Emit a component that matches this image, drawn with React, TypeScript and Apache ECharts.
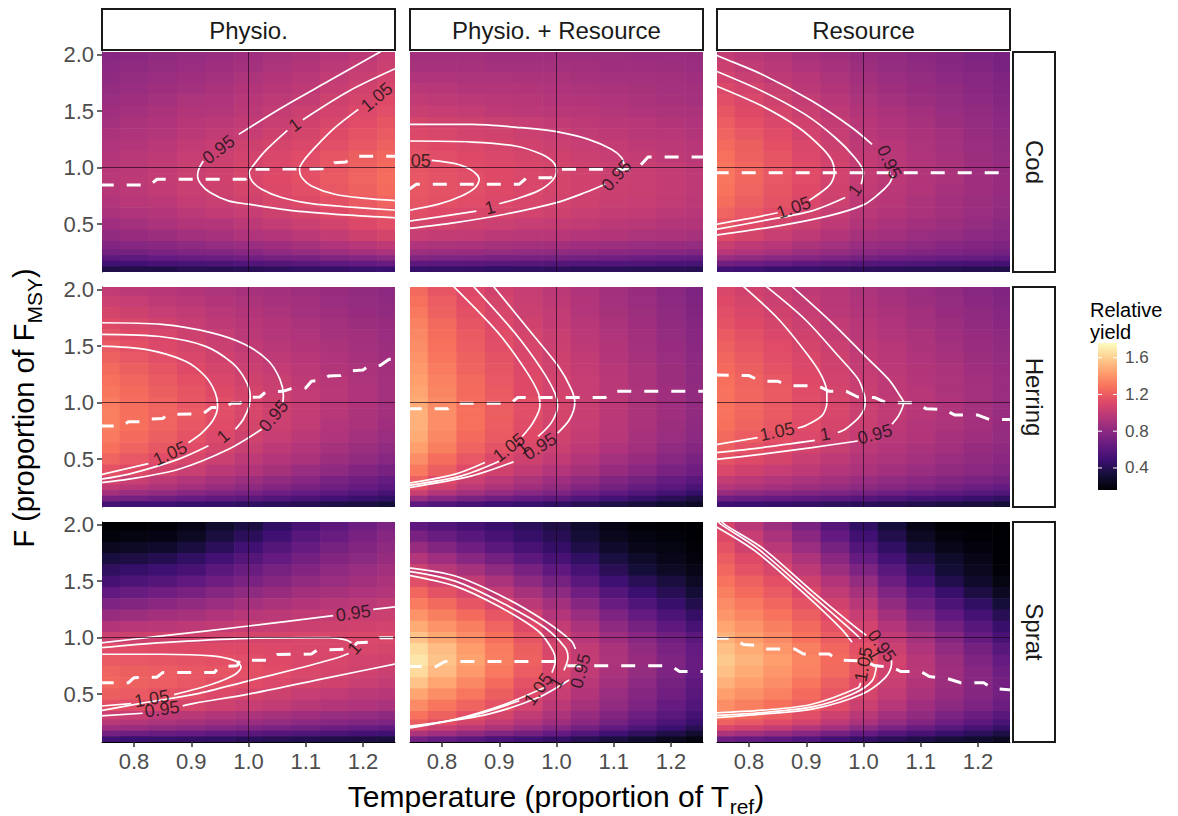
import React, { useEffect, useRef } from "react";
import * as echarts from "echarts";

const FONT = '"Liberation Sans", Arial, Helvetica, sans-serif';

// ---------- axes / categories ----------
const T_LEVELS = [0.75, 0.8, 0.85, 0.9, 0.95, 1.0, 1.05, 1.1, 1.15, 1.2, 1.25];
// rows listed from top (F = 2.0) to bottom (F = 0.1)
const F_LEVELS = [2.0, 1.9, 1.8, 1.7, 1.6, 1.5, 1.4, 1.3, 1.2, 1.1, 1.0, 0.9, 0.8, 0.7, 0.6, 0.5, 0.4, 0.3, 0.25, 0.2, 0.15, 0.1];
const X_TICKS = [0.8, 0.9, 1.0, 1.1, 1.2];
const Y_TICKS = [0.5, 1.0, 1.5, 2.0];
const LEGEND_TICKS = [0.4, 0.8, 1.2, 1.6];
const COL_LABELS = ["Physio.", "Physio. + Resource", "Resource"];
const ROW_LABELS = ["Cod", "Herring", "Sprat"];
const YIELD_MIN = 0.16;
const YIELD_MAX = 1.76;
const MAGMA = ["#000004", "#140e36", "#3b0f70", "#641a80", "#8c2981", "#b73779", "#de4968", "#f7705c", "#fe9f6d", "#fecf92", "#fcfdbf"];

// ---------- relative yield (x100), rows F 2.0 -> 0.1, cols T 0.75 -> 1.25 ----------
const COD_PHYSIO = [
  [78, 79, 81, 83, 85, 87, 90, 92, 95, 98, 102],
  [80, 81, 83, 85, 87, 89, 92, 94, 98, 101, 104],
  [81, 83, 85, 87, 89, 92, 94, 97, 100, 103, 107],
  [83, 85, 87, 89, 91, 94, 96, 99, 102, 106, 109],
  [85, 87, 89, 92, 93, 96, 99, 101, 105, 108, 112],
  [87, 89, 91, 94, 95, 98, 101, 104, 107, 111, 114],
  [89, 91, 93, 96, 98, 100, 103, 106, 109, 113, 117],
  [91, 93, 95, 98, 100, 102, 105, 108, 112, 116, 119],
  [93, 95, 97, 100, 102, 105, 108, 110, 114, 118, 122],
  [95, 97, 99, 102, 104, 107, 110, 113, 117, 121, 124],
  [96, 98, 100, 103, 105, 108, 111, 114, 118, 122, 126],
  [97, 99, 101, 104, 106, 109, 112, 115, 119, 123, 127],
  [96, 98, 100, 103, 105, 108, 111, 114, 118, 122, 126],
  [94, 96, 98, 101, 103, 106, 109, 112, 115, 119, 123],
  [91, 93, 95, 98, 100, 102, 105, 108, 112, 116, 119],
  [87, 89, 91, 94, 95, 98, 101, 104, 107, 111, 114],
  [82, 84, 86, 88, 90, 93, 95, 98, 101, 105, 108],
  [76, 77, 79, 81, 83, 85, 87, 90, 93, 96, 99],
  [70, 71, 73, 75, 76, 78, 81, 83, 86, 89, 91],
  [61, 62, 64, 66, 67, 69, 71, 72, 75, 77, 80],
  [50, 51, 53, 54, 55, 57, 58, 60, 62, 64, 66],
  [37, 38, 38, 40, 40, 41, 43, 44, 45, 47, 48],
];
const COD_PR = [
  [88, 88, 88, 87, 87, 87, 86, 86, 85, 85, 84],
  [90, 90, 90, 89, 89, 89, 88, 87, 87, 86, 85],
  [93, 93, 92, 92, 91, 91, 90, 89, 89, 88, 87],
  [97, 96, 95, 95, 94, 93, 92, 91, 90, 89, 88],
  [100, 99, 98, 97, 96, 95, 94, 93, 91, 90, 89],
  [103, 102, 101, 99, 98, 97, 96, 95, 93, 92, 91],
  [108, 106, 105, 103, 102, 100, 99, 97, 96, 94, 93],
  [111, 109, 107, 106, 104, 102, 100, 99, 97, 96, 94],
  [114, 112, 110, 108, 106, 104, 102, 101, 99, 98, 96],
  [116, 114, 112, 110, 108, 106, 104, 102, 101, 99, 97],
  [117, 115, 113, 112, 110, 108, 106, 104, 103, 101, 99],
  [118, 116, 114, 112, 110, 108, 106, 104, 103, 101, 99],
  [118, 116, 114, 112, 110, 108, 106, 104, 103, 101, 99],
  [117, 115, 113, 111, 109, 107, 105, 103, 102, 100, 98],
  [114, 112, 110, 109, 107, 105, 103, 101, 100, 98, 96],
  [108, 107, 105, 104, 102, 101, 100, 98, 97, 95, 94],
  [102, 101, 100, 98, 97, 96, 95, 94, 92, 91, 90],
  [93, 92, 91, 90, 89, 88, 87, 86, 85, 84, 83],
  [86, 85, 84, 83, 82, 81, 80, 79, 78, 77, 76],
  [76, 75, 74, 73, 72, 71, 70, 69, 67, 66, 65],
  [62, 61, 60, 60, 59, 58, 57, 56, 56, 55, 54],
  [46, 45, 45, 44, 44, 43, 42, 42, 41, 41, 40],
];
const COD_RES = [
  [100, 97, 94, 90, 87, 84, 82, 79, 77, 74, 72],
  [104, 100, 97, 93, 90, 86, 83, 81, 78, 76, 73],
  [107, 103, 99, 96, 92, 88, 85, 83, 80, 78, 75],
  [111, 107, 103, 98, 94, 90, 87, 84, 82, 79, 76],
  [114, 110, 105, 101, 96, 92, 89, 86, 83, 80, 77],
  [117, 112, 108, 103, 99, 94, 91, 88, 85, 82, 79],
  [120, 115, 110, 106, 101, 96, 93, 90, 86, 83, 80],
  [123, 118, 113, 107, 102, 97, 94, 91, 88, 84, 81],
  [126, 121, 115, 110, 104, 99, 96, 92, 89, 85, 82],
  [128, 122, 117, 111, 106, 100, 97, 93, 90, 86, 83],
  [130, 124, 118, 113, 107, 101, 98, 94, 91, 87, 84],
  [130, 124, 118, 113, 107, 101, 98, 94, 91, 87, 84],
  [129, 123, 117, 112, 106, 100, 97, 94, 90, 87, 84],
  [127, 121, 116, 110, 105, 99, 96, 92, 89, 86, 83],
  [123, 118, 113, 107, 102, 97, 94, 91, 88, 85, 82],
  [118, 113, 108, 104, 99, 94, 91, 88, 86, 83, 80],
  [112, 108, 103, 99, 94, 90, 88, 85, 83, 80, 78],
  [103, 99, 96, 92, 89, 85, 83, 81, 78, 76, 74],
  [96, 93, 90, 86, 83, 80, 78, 76, 74, 72, 70],
  [85, 82, 79, 77, 74, 71, 69, 68, 66, 65, 63],
  [69, 67, 65, 62, 60, 58, 57, 56, 54, 53, 52],
  [50, 49, 47, 46, 44, 43, 42, 41, 40, 39, 38],
];
const HER_PHYSIO = [
  [100, 98, 96, 94, 92, 90, 88, 86, 84, 82, 80],
  [104, 102, 99, 97, 94, 92, 90, 88, 85, 83, 81],
  [108, 105, 102, 100, 97, 94, 92, 89, 87, 84, 82],
  [112, 109, 106, 102, 99, 96, 94, 91, 89, 86, 84],
  [116, 112, 109, 105, 102, 98, 95, 93, 90, 88, 85],
  [119, 115, 111, 108, 104, 100, 97, 94, 92, 89, 86],
  [122, 118, 114, 110, 106, 102, 99, 96, 93, 90, 87],
  [125, 121, 117, 112, 108, 104, 101, 98, 94, 91, 88],
  [128, 124, 119, 115, 110, 106, 103, 99, 96, 92, 89],
  [130, 126, 121, 117, 112, 108, 104, 100, 97, 93, 89],
  [132, 127, 123, 118, 114, 109, 105, 101, 97, 93, 89],
  [133, 128, 123, 119, 114, 109, 105, 101, 96, 92, 88],
  [133, 128, 123, 118, 113, 108, 104, 100, 95, 91, 87],
  [131, 126, 121, 116, 111, 106, 102, 98, 93, 89, 85],
  [128, 123, 118, 113, 108, 103, 99, 95, 90, 86, 82],
  [123, 118, 113, 109, 104, 99, 95, 91, 86, 82, 78],
  [116, 112, 107, 103, 98, 94, 90, 85, 81, 76, 72],
  [107, 103, 99, 94, 90, 86, 82, 78, 73, 69, 65],
  [100, 96, 92, 88, 84, 80, 76, 72, 68, 64, 60],
  [88, 85, 82, 78, 75, 72, 68, 64, 61, 57, 53],
  [72, 70, 67, 65, 62, 60, 57, 54, 50, 47, 44],
  [52, 50, 49, 47, 46, 44, 42, 40, 37, 35, 33],
];
const HER_PR = [
  [125, 117, 111, 106, 102, 98, 93, 88, 84, 79, 74],
  [128, 120, 113, 108, 103, 99, 94, 89, 85, 80, 75],
  [131, 122, 115, 109, 104, 100, 95, 90, 86, 81, 76],
  [134, 125, 117, 111, 106, 101, 96, 91, 87, 82, 77],
  [136, 127, 119, 113, 108, 103, 98, 93, 88, 83, 78],
  [138, 128, 120, 114, 109, 104, 99, 94, 89, 84, 79],
  [140, 130, 122, 116, 110, 105, 100, 95, 90, 85, 80],
  [142, 132, 123, 117, 111, 106, 101, 96, 91, 86, 81],
  [144, 134, 125, 118, 112, 107, 102, 97, 91, 86, 81],
  [146, 135, 126, 119, 112, 107, 102, 97, 92, 87, 82],
  [148, 137, 127, 120, 114, 108, 103, 98, 92, 87, 82],
  [150, 138, 128, 121, 114, 108, 103, 98, 92, 87, 82],
  [150, 138, 128, 120, 113, 107, 102, 97, 91, 86, 81],
  [148, 136, 126, 119, 112, 106, 101, 96, 90, 85, 80],
  [144, 133, 123, 116, 110, 104, 99, 93, 88, 82, 77],
  [138, 127, 118, 111, 105, 100, 95, 89, 84, 78, 73],
  [131, 121, 112, 106, 100, 95, 90, 84, 79, 73, 68],
  [122, 112, 104, 98, 92, 87, 82, 76, 71, 65, 60],
  [115, 106, 98, 92, 87, 82, 76, 71, 65, 60, 54],
  [103, 95, 88, 83, 78, 74, 68, 63, 57, 52, 46],
  [85, 78, 73, 68, 64, 61, 56, 51, 46, 41, 36],
  [62, 57, 53, 49, 47, 44, 41, 37, 34, 30, 27],
];
const HER_RES = [
  [110, 106, 103, 99, 96, 92, 89, 85, 82, 78, 75],
  [112, 108, 104, 101, 97, 93, 90, 86, 83, 79, 76],
  [114, 110, 106, 102, 98, 94, 91, 88, 84, 81, 78],
  [116, 112, 108, 104, 100, 96, 93, 89, 86, 82, 79],
  [119, 115, 110, 106, 101, 97, 94, 91, 87, 84, 81],
  [122, 117, 113, 108, 104, 99, 96, 92, 89, 85, 82],
  [124, 119, 114, 110, 105, 100, 97, 93, 90, 86, 83],
  [126, 121, 116, 111, 106, 101, 98, 94, 91, 87, 84],
  [128, 123, 118, 112, 107, 102, 99, 95, 92, 88, 85],
  [129, 124, 119, 113, 108, 103, 99, 96, 92, 89, 85],
  [129, 124, 119, 114, 109, 104, 100, 96, 93, 89, 85],
  [129, 124, 119, 114, 109, 104, 100, 96, 93, 89, 85],
  [128, 123, 118, 113, 108, 103, 99, 95, 92, 88, 84],
  [125, 120, 115, 111, 106, 101, 97, 94, 90, 87, 83],
  [121, 116, 112, 107, 103, 98, 95, 91, 88, 84, 81],
  [116, 112, 108, 103, 99, 95, 92, 89, 85, 82, 79],
  [110, 106, 102, 99, 95, 91, 88, 85, 82, 79, 76],
  [101, 98, 95, 91, 88, 85, 82, 79, 76, 73, 70],
  [95, 92, 89, 86, 83, 80, 77, 74, 70, 67, 64],
  [84, 81, 79, 76, 74, 71, 68, 65, 62, 59, 56],
  [68, 66, 64, 62, 60, 58, 55, 52, 50, 47, 44],
  [49, 48, 46, 45, 43, 42, 40, 38, 36, 34, 32],
];
const SPR_PHYSIO = [
  [15, 16, 17, 21, 28, 35, 44, 53, 61, 68, 74],
  [18, 20, 21, 26, 34, 42, 50, 59, 66, 72, 78],
  [25, 27, 29, 34, 42, 50, 58, 65, 71, 76, 81],
  [34, 36, 39, 44, 51, 58, 64, 70, 76, 80, 84],
  [43, 46, 49, 53, 60, 66, 71, 76, 81, 85, 88],
  [52, 55, 58, 63, 68, 73, 77, 82, 85, 88, 91],
  [63, 66, 69, 72, 77, 81, 84, 88, 90, 93, 95],
  [74, 76, 79, 82, 85, 89, 91, 94, 96, 98, 100],
  [84, 86, 88, 90, 93, 96, 98, 100, 101, 103, 104],
  [94, 96, 97, 99, 100, 102, 103, 104, 105, 106, 107],
  [104, 105, 106, 106, 107, 108, 108, 109, 109, 110, 110],
  [113, 113, 112, 112, 112, 112, 111, 110, 110, 109, 108],
  [119, 118, 117, 116, 115, 114, 112, 110, 109, 107, 106],
  [123, 121, 120, 118, 117, 115, 113, 110, 108, 106, 104],
  [124, 122, 120, 118, 115, 113, 111, 108, 106, 103, 101],
  [121, 119, 116, 114, 111, 108, 105, 102, 100, 98, 96],
  [115, 113, 110, 108, 105, 102, 100, 97, 95, 93, 91],
  [104, 102, 99, 97, 94, 92, 90, 87, 85, 83, 81],
  [97, 95, 92, 90, 87, 85, 83, 80, 78, 76, 74],
  [87, 85, 82, 80, 77, 75, 73, 70, 67, 65, 63],
  [70, 68, 66, 64, 62, 60, 58, 56, 54, 52, 50],
  [50, 48, 47, 45, 44, 42, 40, 39, 37, 36, 34],
];
const SPR_PR = [
  [62, 57, 52, 47, 42, 36, 29, 21, 17, 16, 15],
  [72, 66, 59, 53, 46, 40, 32, 24, 20, 18, 16],
  [84, 76, 68, 60, 53, 45, 37, 29, 23, 20, 17],
  [95, 87, 78, 70, 61, 53, 44, 35, 28, 23, 19],
  [105, 97, 90, 81, 72, 62, 52, 41, 33, 27, 22],
  [114, 107, 100, 91, 81, 71, 60, 49, 41, 34, 27],
  [124, 116, 109, 100, 90, 80, 69, 58, 48, 40, 32],
  [132, 125, 117, 109, 98, 88, 77, 66, 56, 47, 38],
  [140, 133, 126, 117, 106, 95, 85, 74, 64, 55, 45],
  [148, 140, 133, 123, 112, 101, 91, 81, 71, 62, 53],
  [156, 147, 138, 128, 117, 106, 96, 87, 78, 69, 60],
  [164, 154, 143, 132, 121, 109, 100, 91, 82, 73, 64],
  [168, 156, 145, 133, 122, 110, 101, 92, 84, 75, 66],
  [164, 153, 142, 131, 120, 109, 100, 91, 83, 74, 65],
  [156, 146, 136, 126, 116, 106, 97, 88, 80, 71, 62],
  [146, 138, 130, 121, 112, 102, 94, 85, 77, 69, 60],
  [137, 130, 123, 116, 107, 98, 90, 82, 74, 65, 57],
  [129, 122, 115, 108, 100, 92, 84, 76, 68, 60, 52],
  [121, 115, 108, 101, 94, 87, 79, 71, 63, 55, 47],
  [109, 103, 98, 92, 85, 78, 70, 63, 55, 48, 40],
  [92, 87, 82, 76, 70, 64, 57, 50, 43, 37, 30],
  [70, 65, 60, 55, 50, 45, 40, 35, 30, 25, 20],
];
const SPR_RES = [
  [108, 97, 86, 73, 58, 44, 33, 21, 16, 16, 15],
  [112, 102, 91, 79, 64, 50, 38, 26, 19, 17, 15],
  [116, 106, 97, 85, 71, 57, 44, 31, 23, 19, 15],
  [120, 112, 103, 92, 79, 65, 51, 38, 28, 22, 16],
  [124, 116, 109, 99, 86, 74, 59, 44, 32, 25, 17],
  [129, 122, 115, 105, 94, 83, 67, 51, 38, 29, 20],
  [133, 126, 119, 111, 100, 90, 75, 60, 47, 36, 26],
  [137, 131, 124, 116, 106, 96, 82, 67, 55, 44, 33],
  [141, 135, 129, 121, 112, 102, 88, 75, 63, 52, 40],
  [146, 140, 133, 125, 116, 107, 95, 82, 70, 59, 47],
  [150, 144, 137, 129, 120, 111, 100, 89, 77, 65, 53],
  [155, 148, 141, 133, 124, 115, 104, 93, 82, 71, 59],
  [158, 151, 144, 135, 126, 117, 107, 96, 86, 75, 64],
  [155, 148, 141, 134, 125, 116, 106, 97, 87, 78, 68],
  [150, 144, 138, 130, 121, 112, 103, 94, 86, 78, 70],
  [144, 139, 134, 126, 117, 108, 100, 91, 84, 77, 70],
  [138, 133, 128, 122, 113, 104, 96, 87, 80, 74, 67],
  [130, 125, 120, 114, 105, 97, 89, 82, 74, 67, 60],
  [122, 118, 113, 107, 99, 91, 83, 76, 68, 61, 54],
  [110, 106, 101, 95, 88, 80, 73, 66, 59, 53, 46],
  [92, 88, 84, 78, 71, 64, 58, 53, 47, 42, 36],
  [68, 65, 62, 57, 51, 45, 41, 37, 33, 30, 26],
];

// ---------- contour lines (segments of [T, F]) ----------
const COD_PHYSIO_CONTOURS = [
  [[1.235, 2.04], [1.14, 1.767], [1.058, 1.531], [0.983, 1.295]],
  [[0.921, 1.059], [0.913, 0.985], [0.911, 0.926], [0.917, 0.853], [0.933, 0.779], [0.965, 0.705], [1.0, 0.676], [1.081, 0.617], [1.169, 0.581], [1.26, 0.555]],
  [[1.26, 1.885], [1.175, 1.678], [1.095, 1.425]],
  [[1.068, 1.33], [1.029, 1.147], [1.01, 1.03], [1.001, 0.956], [1.006, 0.882], [1.023, 0.808], [1.058, 0.735], [1.11, 0.681], [1.18, 0.65], [1.26, 0.622]],
  [[1.192, 1.516], [1.151, 1.354], [1.116, 1.177], [1.096, 1.059], [1.089, 0.985], [1.093, 0.912], [1.11, 0.838], [1.151, 0.764], [1.2, 0.73], [1.26, 0.708]],
];
const COD_PR_CONTOURS = [
  [[0.74, 1.383], [0.852, 1.383], [0.939, 1.354], [1.0, 1.319], [1.056, 1.251], [1.096, 1.162], [1.114, 1.088], [1.118, 1.03]],
  [[1.085, 0.853], [1.05, 0.779], [1.0, 0.69], [0.91, 0.587], [0.823, 0.513], [0.74, 0.46]],
  [[0.74, 1.236], [0.852, 1.227], [0.928, 1.192], [0.974, 1.118], [0.995, 1.044], [1.0, 0.97], [0.992, 0.882], [0.968, 0.794], [0.928, 0.72], [0.9, 0.68]],
  [[0.86, 0.615], [0.794, 0.563], [0.74, 0.525]],
  [[0.782, 1.065], [0.823, 1.035], [0.852, 0.976], [0.865, 0.897], [0.858, 0.823], [0.834, 0.749], [0.794, 0.676], [0.74, 0.62]],
];
const COD_RES_CONTOURS = [
  [[0.735, 2.02], [0.747, 1.988], [0.823, 1.826], [0.91, 1.59], [0.98, 1.354], [1.015, 1.206]],
  [[1.052, 0.93], [1.044, 0.853], [1.026, 0.764], [1.0, 0.67], [0.939, 0.572], [0.852, 0.484], [0.74, 0.4]],
  [[0.74, 1.86], [0.823, 1.678], [0.898, 1.472], [0.951, 1.265], [0.985, 1.088], [1.0, 0.956], [0.996, 0.853]],
  [[0.968, 0.735], [0.91, 0.617], [0.823, 0.528], [0.74, 0.45]],
  [[0.74, 1.73], [0.823, 1.546], [0.887, 1.354], [0.927, 1.177], [0.945, 1.059], [0.949, 0.956], [0.942, 0.853], [0.921, 0.764], [0.905, 0.71]],
  [[0.85, 0.6], [0.793, 0.543], [0.74, 0.496]],
];
const HER_PHYSIO_CONTOURS = [
  [[0.74, 1.708], [0.849, 1.693], [0.936, 1.619], [0.994, 1.516], [1.035, 1.369], [1.055, 1.206], [1.061, 1.059], [1.06, 1.0]],
  [[1.023, 0.764], [0.965, 0.587], [0.878, 0.41], [0.791, 0.322], [0.74, 0.29]],
  [[0.74, 1.605], [0.849, 1.584], [0.924, 1.501], [0.971, 1.354], [0.994, 1.206], [1.003, 1.059], [1.001, 0.97], [0.991, 0.853], [0.977, 0.764]],
  [[0.93, 0.617], [0.878, 0.499], [0.791, 0.366], [0.74, 0.32]],
  [[0.74, 1.501], [0.82, 1.472], [0.889, 1.369], [0.924, 1.236], [0.942, 1.088], [0.946, 0.97], [0.939, 0.853], [0.919, 0.735], [0.895, 0.645]],
  [[0.825, 0.46], [0.74, 0.36]],
];
const HER_PR_CONTOURS = [
  [[0.89, 2.03], [0.956, 1.619], [1.003, 1.324], [1.026, 1.118], [1.032, 1.0], [1.023, 0.853], [1.002, 0.73]],
  [[0.925, 0.475], [0.852, 0.351], [0.74, 0.245]],
  [[0.855, 2.03], [0.927, 1.619], [0.974, 1.295], [0.997, 1.088], [1.002, 0.97], [0.991, 0.823], [0.968, 0.7]],
  [[0.9, 0.48], [0.834, 0.351], [0.74, 0.265]],
  [[0.82, 2.03], [0.898, 1.619], [0.945, 1.295], [0.968, 1.088], [0.971, 0.97], [0.959, 0.823], [0.94, 0.7]],
  [[0.875, 0.469], [0.823, 0.366], [0.74, 0.284]],
];
const HER_RES_CONTOURS = [
  [[0.875, 2.03], [0.945, 1.708], [1.003, 1.413], [1.044, 1.206], [1.064, 1.059], [1.07, 1.0], [1.061, 0.882], [1.05, 0.81]],
  [[0.99, 0.66], [0.91, 0.602], [0.823, 0.543], [0.74, 0.495]],
  [[0.83, 2.03], [0.898, 1.737], [0.956, 1.413], [0.991, 1.206], [1.002, 1.059], [1.003, 1.0], [0.994, 0.882], [0.968, 0.764], [0.955, 0.735]],
  [[0.915, 0.665], [0.823, 0.602], [0.74, 0.555]],
  [[0.79, 2.03], [0.852, 1.737], [0.904, 1.413], [0.927, 1.236], [0.936, 1.088], [0.936, 1.0], [0.927, 0.882], [0.898, 0.794], [0.885, 0.775]],
  [[0.815, 0.69], [0.74, 0.625]],
];
const SPR_PHYSIO_CONTOURS = [
  [[0.74, 0.953], [0.849, 1.015], [1.0, 1.103], [1.148, 1.195]],
  [[1.218, 1.25], [1.26, 1.275]],
  [[0.74, 0.305], [0.815, 0.33]],
  [[0.885, 0.395], [0.907, 0.42], [1.0, 0.499], [1.14, 0.646], [1.26, 0.77]],
  [[0.74, 0.91], [0.849, 0.956], [1.0, 0.994], [1.14, 1.0], [1.17, 0.98], [1.18, 0.955]],
  [[1.175, 0.86], [1.151, 0.815], [1.081, 0.72], [1.0, 0.617], [0.907, 0.499], [0.82, 0.425], [0.74, 0.35]],
  [[0.74, 0.853], [0.849, 0.853], [0.936, 0.838], [0.977, 0.794], [0.987, 0.74], [0.977, 0.676], [0.936, 0.587], [0.87, 0.495]],
  [[0.795, 0.415], [0.74, 0.393]],
];
const SPR_PR_CONTOURS = [
  [[0.74, 1.62], [0.823, 1.546], [0.91, 1.354], [0.98, 1.147], [1.026, 0.97], [1.033, 0.9]],
  [[1.022, 0.625], [0.968, 0.469], [0.881, 0.322], [0.793, 0.248], [0.74, 0.215]],
  [[0.74, 1.59], [0.823, 1.501], [0.91, 1.295], [0.98, 1.088], [1.015, 0.912], [1.02, 0.823], [1.013, 0.71]],
  [[0.98, 0.56], [0.91, 0.41], [0.823, 0.277], [0.74, 0.205]],
  [[0.74, 1.555], [0.823, 1.457], [0.898, 1.28], [0.968, 1.059], [0.994, 0.882], [0.998, 0.794], [0.992, 0.69]],
  [[0.935, 0.44], [0.852, 0.307], [0.74, 0.195]],
];
const SPR_RES_CONTOURS = [
  [[0.752, 2.03], [0.759, 1.997], [0.823, 1.796], [0.91, 1.413], [0.98, 1.118], [1.005, 1.02]],
  [[1.049, 0.8], [1.049, 0.764], [1.038, 0.646], [0.997, 0.499], [0.91, 0.366], [0.823, 0.322], [0.74, 0.29]],
  [[0.745, 2.03], [0.753, 1.997], [0.817, 1.782], [0.904, 1.398], [0.974, 1.088], [0.995, 0.99]],
  [[1.023, 0.764], [1.015, 0.617], [0.98, 0.499], [0.91, 0.386], [0.823, 0.336], [0.74, 0.31]],
  [[0.74, 1.99], [0.811, 1.767], [0.898, 1.383], [0.962, 1.074], [0.98, 0.96]],
  [[0.995, 0.6], [0.991, 0.558], [0.91, 0.41], [0.823, 0.357], [0.74, 0.333]],
];

// ---------- contour labels [T, F, text, rotation deg] ----------
const COD_PHYSIO_LABELS = [[0.948, 1.16, "0.95", 37], [1.081, 1.378, "1", 36], [1.224, 1.625, "1.05", 40]];
const COD_PR_LABELS = [[0.763, 1.06, "05", 0], [0.884, 0.646, "1", 15], [1.105, 0.93, "0.95", 48]];
const COD_RES_LABELS = [[1.045, 1.05, "0.95", -65], [0.985, 0.8, "1", 55], [0.878, 0.646, "1.05", 20]];
const HER_PHYSIO_LABELS = [[1.044, 0.882, "0.95", 50], [0.956, 0.7, "1", 40], [0.863, 0.55, "1.05", 25]];
const HER_PR_LABELS = [[0.917, 0.602, "1.05", 38], [0.94, 0.6, "1", 40], [0.971, 0.612, "0.95", 32]];
const HER_RES_LABELS = [[1.02, 0.72, "0.95", 15], [0.933, 0.72, "1", 10], [0.849, 0.743, "1.05", 12]];
const SPR_PHYSIO_LABELS = [[1.183, 1.218, "0.95", 8], [0.849, 0.366, "0.95", 8], [0.831, 0.46, "1.05", 10], [1.185, 0.905, "1", 50]];
const SPR_PR_LABELS = [[0.968, 0.543, "1.05", 55], [1.0, 0.6, "1", 60], [1.042, 0.705, "0.95", 75]];
const SPR_RES_LABELS = [[1.0, 0.764, "1.05", 80], [1.02, 0.85, "1", -60], [1.032, 0.926, "0.95", -55]];

// ---------- F giving maximum yield at each temperature (dashed) ----------
const COD_PHYSIO_FOPT = [[0.74, 0.847], [0.828, 0.847], [0.84, 0.897], [0.995, 0.897], [1.012, 0.985], [1.14, 0.99], [1.15, 1.044], [1.17, 1.05], [1.185, 1.1], [1.26, 1.1]];
const COD_PR_FOPT = [[0.74, 0.8], [0.755, 0.853], [0.935, 0.853], [0.948, 0.91], [0.99, 0.91], [1.005, 0.985], [1.14, 0.985], [1.16, 1.094], [1.26, 1.094]];
const COD_RES_FOPT = [[0.74, 0.955], [1.26, 0.955]];
const HER_PHYSIO_FOPT = [[0.74, 0.794], [0.78, 0.794], [0.79, 0.83], [0.82, 0.83], [0.83, 0.855], [0.85, 0.86], [0.86, 0.897], [0.92, 0.9], [0.935, 0.956], [0.96, 0.96], [0.97, 0.994], [0.985, 0.994], [0.995, 1.044], [1.02, 1.05], [1.03, 1.094], [1.06, 1.1], [1.075, 1.124], [1.1, 1.13], [1.11, 1.19], [1.13, 1.2], [1.14, 1.236], [1.16, 1.24], [1.175, 1.28], [1.2, 1.29], [1.21, 1.324], [1.23, 1.33], [1.245, 1.383], [1.26, 1.4]];
const HER_PR_FOPT = [[0.74, 0.945], [0.81, 0.945], [0.822, 0.995], [0.92, 0.995], [0.932, 1.045], [1.085, 1.045], [1.097, 1.1], [1.26, 1.1]];
const HER_RES_FOPT = [[0.74, 1.245], [0.8, 1.24], [0.82, 1.19], [0.85, 1.19], [0.87, 1.15], [0.92, 1.15], [0.94, 1.1], [0.97, 1.1], [0.99, 1.05], [1.02, 1.045], [1.04, 1.0], [1.09, 1.0], [1.11, 0.945], [1.14, 0.94], [1.16, 0.89], [1.2, 0.89], [1.22, 0.85], [1.26, 0.85]];
const SPR_PHYSIO_FOPT = [[0.74, 0.6], [0.79, 0.6], [0.8, 0.645], [0.84, 0.65], [0.85, 0.69], [0.94, 0.69], [0.95, 0.745], [0.98, 0.75], [0.985, 0.8], [1.04, 0.8], [1.05, 0.85], [1.11, 0.855], [1.12, 0.89], [1.18, 0.9], [1.19, 0.955], [1.22, 0.96], [1.23, 1.0], [1.26, 1.0]];
const SPR_PR_FOPT = [[0.74, 0.745], [0.79, 0.745], [0.805, 0.788], [1.0, 0.788], [1.012, 0.75], [1.2, 0.75], [1.215, 0.7], [1.26, 0.7]];
const SPR_RES_FOPT = [[0.74, 0.995], [0.77, 0.995], [0.79, 0.94], [0.815, 0.93], [0.825, 0.9], [0.88, 0.9], [0.895, 0.855], [0.94, 0.855], [0.955, 0.8], [1.0, 0.795], [1.02, 0.75], [1.05, 0.74], [1.065, 0.7], [1.1, 0.7], [1.115, 0.655], [1.145, 0.64], [1.17, 0.6], [1.21, 0.6], [1.225, 0.55], [1.26, 0.535]];

const PANELS = [
  { grid: COD_PHYSIO, contours: COD_PHYSIO_CONTOURS, labels: COD_PHYSIO_LABELS, fopt: COD_PHYSIO_FOPT },
  { grid: COD_PR, contours: COD_PR_CONTOURS, labels: COD_PR_LABELS, fopt: COD_PR_FOPT },
  { grid: COD_RES, contours: COD_RES_CONTOURS, labels: COD_RES_LABELS, fopt: COD_RES_FOPT },
  { grid: HER_PHYSIO, contours: HER_PHYSIO_CONTOURS, labels: HER_PHYSIO_LABELS, fopt: HER_PHYSIO_FOPT },
  { grid: HER_PR, contours: HER_PR_CONTOURS, labels: HER_PR_LABELS, fopt: HER_PR_FOPT },
  { grid: HER_RES, contours: HER_RES_CONTOURS, labels: HER_RES_LABELS, fopt: HER_RES_FOPT },
  { grid: SPR_PHYSIO, contours: SPR_PHYSIO_CONTOURS, labels: SPR_PHYSIO_LABELS, fopt: SPR_PHYSIO_FOPT },
  { grid: SPR_PR, contours: SPR_PR_CONTOURS, labels: SPR_PR_LABELS, fopt: SPR_PR_FOPT },
  { grid: SPR_RES, contours: SPR_RES_CONTOURS, labels: SPR_RES_LABELS, fopt: SPR_RES_FOPT },
];

// ---------- layout ----------
const PANEL_LEFT = [102, 410, 717];
const PANEL_TOP = [52, 287, 522];
const PANEL_W = 293;
const PANEL_H = 220;
const X_MIN = 0.744, X_MAX = 1.256;
const Y_MIN = 0.075, Y_MAX = 2.025;
const T_HALF = 0.025;

function measure(text: string, size: number) {
  const ctx = document.createElement("canvas").getContext("2d")!;
  ctx.font = `${size}px "Liberation Sans", Arial, sans-serif`;
  return ctx.measureText(text).width;
}

function renderCell(params: any, api: any) {
  const t = api.value(0);
  const f = api.value(1);
  const r = api.value(3);
  const n = F_LEVELS.length;
  const fHi = r === 0 ? f + (F_LEVELS[0] - F_LEVELS[1]) / 2 : (f + F_LEVELS[r - 1]) / 2;
  const fLo = r === n - 1 ? f - (F_LEVELS[n - 2] - F_LEVELS[n - 1]) / 2 : (f + F_LEVELS[r + 1]) / 2;
  const p1 = api.coord([t - T_HALF, fHi]);
  const p2 = api.coord([t + T_HALF, fLo]);
  const cs = params.coordSys;
  const rect = echarts.graphic.clipRectByRect(
    { x: p1[0], y: p1[1], width: p2[0] - p1[0] + 0.6, height: p2[1] - p1[1] + 0.6 },
    { x: cs.x, y: cs.y, width: cs.width, height: cs.height }
  );
  if (!rect) return null;
  return { type: "rect", shape: rect, style: { fill: api.visual("color") } };
}

function buildOption() {
  const grid: any[] = [];
  const xAxis: any[] = [];
  const yAxis: any[] = [];
  const series: any[] = [];
  const heatIdx: number[] = [];
  const graphic: any[] = [];

  PANELS.forEach((p, i) => {
    const r = Math.floor(i / 3);
    const c = i % 3;
    grid.push({ left: PANEL_LEFT[c], top: PANEL_TOP[r], width: PANEL_W, height: PANEL_H });
    xAxis.push({
      gridIndex: i, type: "value", min: X_MIN, max: X_MAX,
      axisLine: { show: r === 2, lineStyle: { color: "#000", width: 1 } },
      axisTick: { show: r === 2, customValues: X_TICKS, length: 5, lineStyle: { color: "#333", width: 1.5 } },
      axisLabel: { show: r === 2, customValues: X_TICKS, formatter: (v: number) => v.toFixed(1), color: "#4d4d4d", fontSize: 22, fontFamily: FONT, margin: 8 },
      splitLine: { show: false },
    });
    yAxis.push({
      gridIndex: i, type: "value", min: Y_MIN, max: Y_MAX,
      axisLine: { show: c === 0, lineStyle: { color: "#000", width: 1 } },
      axisTick: { show: c === 0, customValues: Y_TICKS, length: 5, lineStyle: { color: "#333", width: 1.5 } },
      axisLabel: { show: c === 0, customValues: Y_TICKS, formatter: (v: number) => v.toFixed(1), color: "#4d4d4d", fontSize: 22, fontFamily: FONT, margin: 8 },
      splitLine: { show: false },
    });

    const data: number[][] = [];
    p.grid.forEach((row, ri) => row.forEach((v, ci) => data.push([T_LEVELS[ci], F_LEVELS[ri], v / 100, ri])));
    heatIdx.push(series.length);
    series.push({
      type: "custom", xAxisIndex: i, yAxisIndex: i, data, renderItem: renderCell,
      encode: { x: 0, y: 1 }, silent: true, z: 1,
      markLine: {
        silent: true, symbol: ["none", "none"], label: { show: false },
        lineStyle: { color: "rgba(25,5,25,0.75)", width: 0.9, type: "solid" },
        data: [{ xAxis: 1 }, { yAxis: 1 }],
      },
    });
    p.contours.forEach((seg) => {
      series.push({
        type: "line", xAxisIndex: i, yAxisIndex: i, data: seg, showSymbol: false, symbol: "none",
        smooth: 0.3, silent: true, z: 3, lineStyle: { color: "#ffffff", width: 1.7 },
      });
    });
    series.push({
      type: "line", xAxisIndex: i, yAxisIndex: i, data: p.fopt, showSymbol: false, symbol: "none",
      silent: true, z: 4, lineStyle: { color: "#ffffff", width: 3, type: [14, 13] },
    });
    series.push({
      type: "scatter", xAxisIndex: i, yAxisIndex: i, silent: true, z: 5, symbolSize: 1,
      itemStyle: { color: "rgba(0,0,0,0)" },
      data: p.labels.map((l: any) => ({ value: [l[0], l[1]], name: l[2], label: { rotate: l[3] } })),
      label: { show: true, position: "inside", formatter: "{b}", color: "#111", fontSize: 18, fontFamily: FONT },
    });
  });

  // strips
  COL_LABELS.forEach((lab, c) => {
    graphic.push({ type: "rect", shape: { x: PANEL_LEFT[c], y: 9, width: PANEL_W, height: 41 }, style: { fill: "#fff", stroke: "#1a1a1a", lineWidth: 2 }, z: 10 });
    graphic.push({ type: "text", x: PANEL_LEFT[c] + PANEL_W / 2, y: 30, style: { text: lab, fill: "#1a1a1a", font: `24px ${FONT}`, align: "center", verticalAlign: "middle" }, z: 11 });
  });
  ROW_LABELS.forEach((lab, r) => {
    graphic.push({ type: "rect", shape: { x: 1013, y: PANEL_TOP[r], width: 42, height: PANEL_H }, style: { fill: "#fff", stroke: "#1a1a1a", lineWidth: 2 }, z: 10 });
    graphic.push({ type: "text", x: 1034, y: PANEL_TOP[r] + PANEL_H / 2, rotation: -Math.PI / 2, style: { text: lab, fill: "#1a1a1a", font: `24px ${FONT}`, align: "center", verticalAlign: "middle" }, z: 11 });
  });

  // axis titles with subscripts
  const xMain = "Temperature (proportion of T", xSub = "ref", close = ")";
  const w1 = measure(xMain, 30), w2 = measure(xSub, 21), w3 = measure(close, 30);
  const xStart = 556 - (w1 + w2 + w3) / 2;
  graphic.push({ type: "text", x: xStart, y: 796, style: { text: xMain, fill: "#000", font: `30px ${FONT}`, align: "left", verticalAlign: "middle" } });
  graphic.push({ type: "text", x: xStart + w1, y: 806, style: { text: xSub, fill: "#000", font: `21px ${FONT}`, align: "left", verticalAlign: "middle" } });
  graphic.push({ type: "text", x: xStart + w1 + w2, y: 796, style: { text: close, fill: "#000", font: `30px ${FONT}`, align: "left", verticalAlign: "middle" } });

  const yMain = "F (proportion of F", ySub = "MSY";
  const v1 = measure(yMain, 29), v2 = measure(ySub, 21), v3 = measure(close, 29);
  const yStart = -(v1 + v2 + v3) / 2;
  graphic.push({
    type: "group", x: 30, y: 408, rotation: Math.PI / 2,
    children: [
      { type: "text", x: yStart, y: -6, style: { text: yMain, fill: "#000", font: `29px ${FONT}`, align: "left", verticalAlign: "middle" } },
      { type: "text", x: yStart + v1, y: 4, style: { text: ySub, fill: "#000", font: `21px ${FONT}`, align: "left", verticalAlign: "middle" } },
      { type: "text", x: yStart + v1 + v2, y: -6, style: { text: close, fill: "#000", font: `29px ${FONT}`, align: "left", verticalAlign: "middle" } },
    ],
  });

  // legend (colour bar)
  const LEG_X = 1098, LEG_W = 19, LEG_TOP = 343, LEG_BOTTOM = 490;
  const legY = (v: number) => LEG_BOTTOM - ((v - YIELD_MIN) / (YIELD_MAX - YIELD_MIN)) * (LEG_BOTTOM - LEG_TOP);
  graphic.push({ type: "text", x: 1090, y: 310, style: { text: "Relative", fill: "#000", font: `20px ${FONT}`, align: "left", verticalAlign: "middle" } });
  graphic.push({ type: "text", x: 1090, y: 332, style: { text: "yield", fill: "#000", font: `20px ${FONT}`, align: "left", verticalAlign: "middle" } });
  graphic.push({
    type: "rect", shape: { x: LEG_X, y: LEG_TOP, width: LEG_W, height: LEG_BOTTOM - LEG_TOP },
    style: { fill: { type: "linear", x: 0, y: 1, x2: 0, y2: 0, colorStops: MAGMA.map((col, k) => ({ offset: k / (MAGMA.length - 1), color: col })) } },
  });
  LEGEND_TICKS.forEach((v) => {
    const y = legY(v);
    graphic.push({ type: "line", shape: { x1: LEG_X, y1: y, x2: LEG_X + 4, y2: y }, style: { stroke: "#fff", lineWidth: 1 } });
    graphic.push({ type: "line", shape: { x1: LEG_X + LEG_W - 4, y1: y, x2: LEG_X + LEG_W, y2: y }, style: { stroke: "#fff", lineWidth: 1 } });
    graphic.push({ type: "text", x: LEG_X + LEG_W + 8, y, style: { text: v.toFixed(1), fill: "#4d4d4d", font: `17px ${FONT}`, align: "left", verticalAlign: "middle" } });
  });

  return {
    animation: false,
    backgroundColor: "#ffffff",
    grid, xAxis, yAxis, series, graphic,
    visualMap: {
      type: "continuous", show: false, min: YIELD_MIN, max: YIELD_MAX, dimension: 2,
      seriesIndex: heatIdx, inRange: { color: MAGMA },
    },
  };
}

export default function App() {
  const ref = useRef<HTMLDivElement>(null);
  useEffect(() => {
    const chart = echarts.init(ref.current!, null, { renderer: "svg" });
    chart.setOption(buildOption() as any);
    return () => chart.dispose();
  }, []);
  return <div ref={ref} style={{ position: "fixed", left: 0, top: 0, width: 1178, height: 816, background: "#fff" }} />;
}
